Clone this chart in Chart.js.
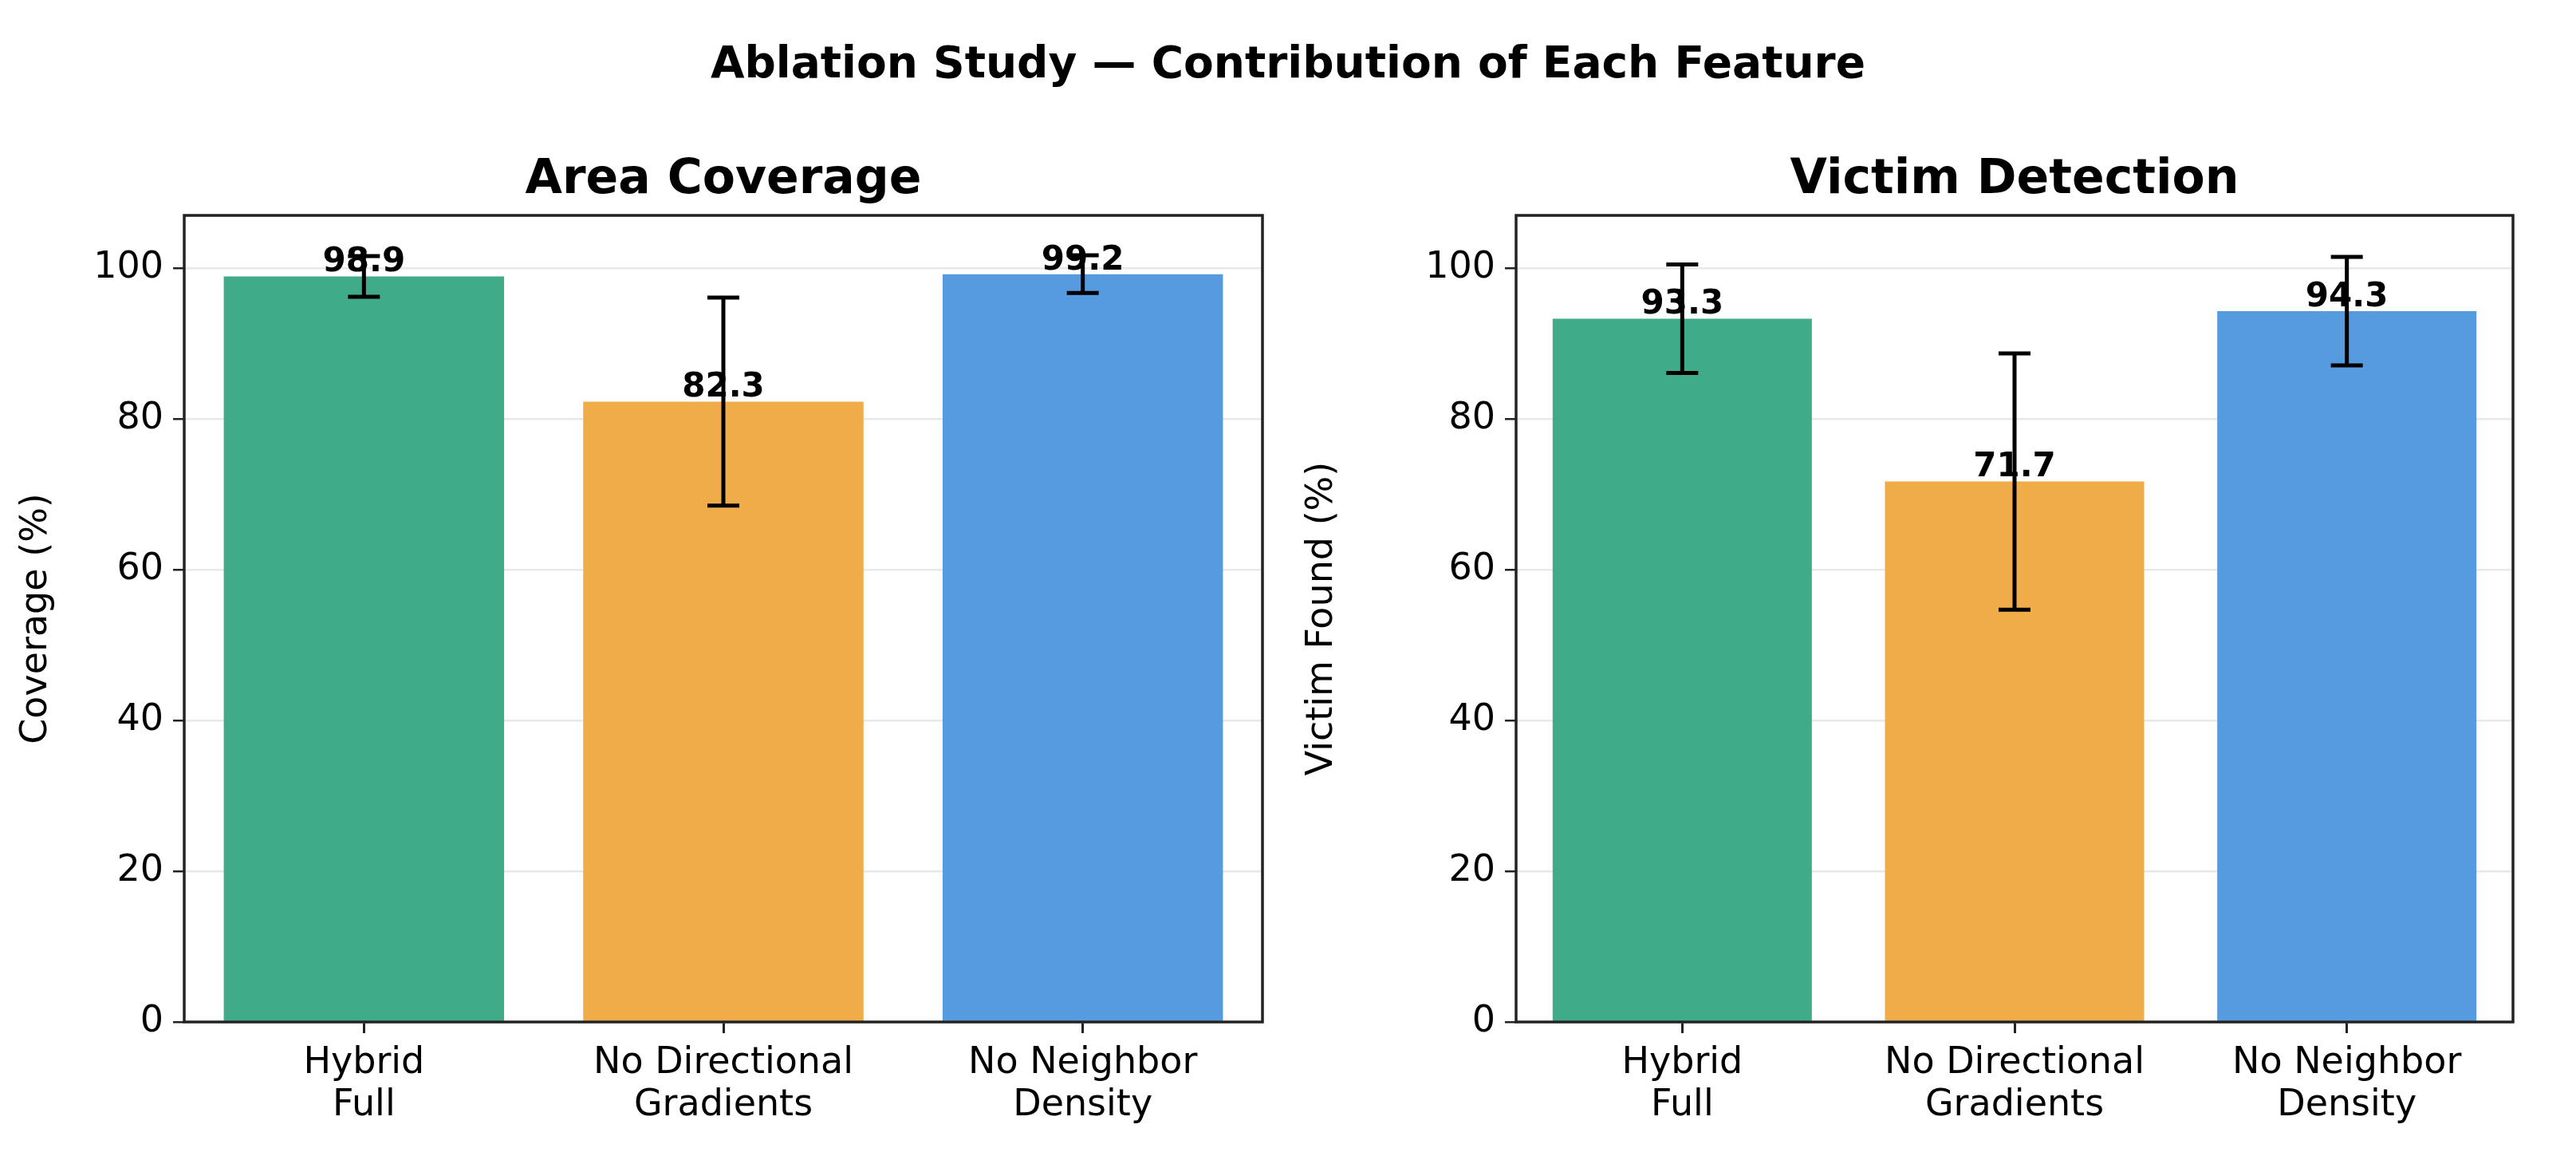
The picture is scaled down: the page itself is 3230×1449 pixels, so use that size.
<!DOCTYPE html>
<html>
<head>
<meta charset="utf-8">
<script src="https://cdn.jsdelivr.net/npm/chart.js@4/dist/chart.umd.min.js"></script>
<style>
  body { margin: 0; background: #fff; width: 3230px; height: 1449px; position: relative; overflow: hidden; }
  #suptitle { position: absolute; top: 46px; left: 0; width: 3230px; text-align: center;
    font: bold 55px "DejaVu Sans"; color: #000; }
  .panel { position: absolute; top: 0; height: 1449px; }
</style>
</head>
<body>
<div id="suptitle">Ablation Study — Contribution of Each Feature</div>
<div class="panel" style="left:0;width:1600px"><canvas id="c1"></canvas></div>
<div class="panel" style="left:1600px;width:1630px"><canvas id="c2"></canvas></div>
<script>
var categories = [['Hybrid', 'Full'], ['No Directional', 'Gradients'], ['No Neighbor', 'Density']];
var coverage = [98.9, 82.3, 99.2];
var coverageErr = [2.7, 13.8, 2.5];
var victim = [93.3, 71.7, 94.3];
var victimErr = [7.2, 17.0, 7.2];
var yTicks = [0, 20, 40, 60, 80, 100];
var barColors = ['#3fab88', '#f0ac48', '#569be0'];

var extrasPlugin = {
  id: 'extras',
  afterDatasetsDraw: function (chart) {
    var ctx = chart.ctx, a = chart.chartArea, o = chart.options.plugins.extras;
    var meta = chart.getDatasetMeta(0), ys = chart.scales.y;
    ctx.save();
    // error bars
    ctx.strokeStyle = '#000';
    ctx.lineWidth = 5;
    meta.data.forEach(function (bar, i) {
      var top = ys.getPixelForValue(o.values[i] + o.errors[i]);
      var bot = ys.getPixelForValue(o.values[i] - o.errors[i]);
      ctx.beginPath();
      ctx.moveTo(bar.x, top); ctx.lineTo(bar.x, bot);
      ctx.moveTo(bar.x - 20, top); ctx.lineTo(bar.x + 20, top);
      ctx.moveTo(bar.x - 20, bot); ctx.lineTo(bar.x + 20, bot);
      ctx.stroke();
    });
    // value labels
    ctx.fillStyle = '#000';
    ctx.font = 'bold 42px "DejaVu Sans"';
    ctx.textAlign = 'center';
    ctx.textBaseline = 'bottom';
    meta.data.forEach(function (bar, i) {
      ctx.fillText(o.values[i].toFixed(1), bar.x, bar.y + 4);
    });
    // frame
    ctx.strokeStyle = '#222';
    ctx.lineWidth = 3.5;
    ctx.strokeRect(a.left, a.top, a.right - a.left, a.bottom - a.top);
    // panel title
    ctx.font = 'bold 60px "DejaVu Sans"';
    ctx.textBaseline = 'alphabetic';
    ctx.fillText(o.title, (a.left + a.right) / 2, 242);
    // y axis title
    ctx.font = '46px "DejaVu Sans"';
    ctx.textBaseline = 'middle';
    ctx.translate(a.left - o.yTitleOffset, (a.top + a.bottom) / 2);
    ctx.rotate(-Math.PI / 2);
    ctx.fillText(o.yTitle, 0, 0);
    ctx.restore();
  }
};

function makeChart(id, values, errors, title, yTitle, yWidth, padRight, yTitleOffset) {
  return new Chart(document.getElementById(id), {
    type: 'bar',
    data: {
      labels: categories,
      datasets: [{ data: values, backgroundColor: barColors, barPercentage: 0.78, categoryPercentage: 1.0 }]
    },
    options: {
      responsive: true, maintainAspectRatio: false, animation: false,
      layout: { padding: { top: 270, right: padRight, left: 0, bottom: 0 } },
      plugins: { legend: { display: false }, tooltip: { enabled: false },
        extras: { values: values, errors: errors, title: title, yTitle: yTitle, yTitleOffset: yTitleOffset } },
      scales: {
        x: {
          grid: { drawOnChartArea: false, offset: false, color: '#222', tickLength: 14, lineWidth: 3 },
          border: { display: false },
          ticks: { color: '#000', font: { family: 'DejaVu Sans', size: 46, lineHeight: 1.15 }, padding: 12 },
          afterFit: function (s) { s.height = 168; }
        },
        y: {
          min: 0, max: 107,
          afterBuildTicks: function (s) { s.ticks = yTicks.map(function (v) { return { value: v }; }); },
          grid: { color: '#e8e8e8', lineWidth: 2.5, tickColor: '#222', tickLength: 14 },
          border: { display: false },
          ticks: { color: '#000', font: { family: 'DejaVu Sans', size: 46 }, padding: 12 },
          afterFit: function (s) { s.width = yWidth; }
        }
      }
    },
    plugins: [extrasPlugin]
  });
}

makeChart('c1', coverage, coverageErr, 'Area Coverage', 'Coverage (%)', 231, 17, 185);
makeChart('c2', victim, victimErr, 'Victim Detection', 'Victim Found (%)', 301, 79, 243);
</script>
</body>
</html>
